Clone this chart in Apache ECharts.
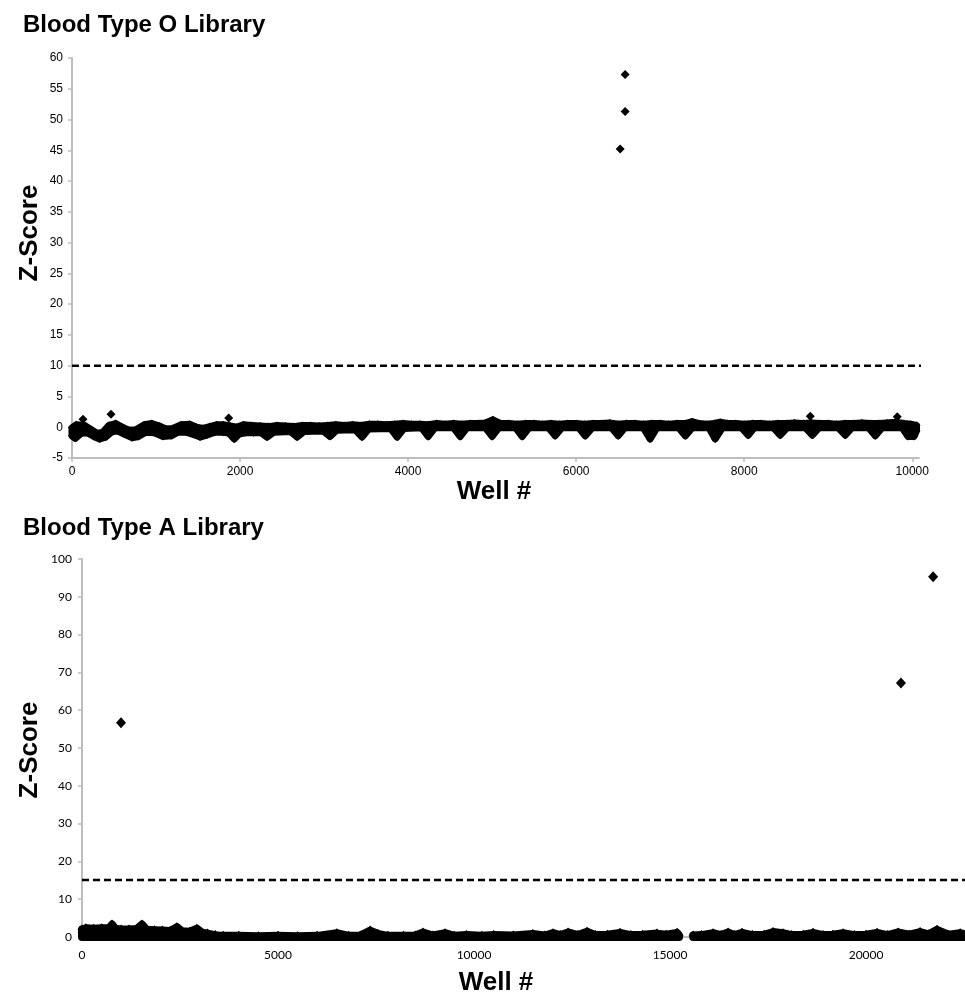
<!DOCTYPE html>
<html>
<head>
<meta charset="utf-8">
<script src="https://cdn.jsdelivr.net/npm/echarts@6/dist/echarts.min.js"></script>
<style>
html,body{margin:0;padding:0;background:#fff;}
#c{width:965px;height:995px;}
</style>
</head>
<body>
<div id="c"></div>
<script>
// ---------------- text ----------------
const titleO = 'Blood Type O Library';
const titleA = 'Blood Type A Library';
const xName = 'Well #';
const yName = 'Z-Score';

// ---------------- tick labels ----------------
const wellTicksO = [0, 2000, 4000, 6000, 8000, 10000];
const wellTicksA = [0, 5000, 10000, 15000, 20000];

// ---------------- thresholds ----------------
const thresholdO = 10;
const thresholdA = 15.1;

// ---------------- Blood Type O : hits and isolated points ----------------
const hitsO = [[6583, 57.3], [6583, 51.3], [6524, 45.2]];
const strayO = [[131, 1.3], [464, 2.1], [1865, 1.5], [8786, 1.8], [9821, 1.7]];

// Blood Type O : dense band, upper edge (well, z)
const upperO = [
[0,-0.1],[50,0.4],[150,0.3],[230,-0.4],[300,-1.0],[370,-0.8],[440,0.3],[520,0.6],[600,0.0],[680,-0.5],
[760,-0.4],[860,0.4],[950,0.6],[1040,0.2],[1120,-0.3],[1200,-0.2],[1300,0.4],[1400,0.5],[1480,0.0],[1560,-0.2],
[1640,0.1],[1720,0.4],[1800,0.4],[1880,0.2],[1960,0.0],[2040,0.4],[2140,0.3],[2240,0.2],[2340,0.1],[2440,0.3],
[2540,0.2],[2640,0.1],[2740,0.3],[2840,0.3],[2940,0.2],[3040,0.3],[3140,0.4],[3240,0.3],[3340,0.4],[3440,0.3],
[3540,0.5],[3640,0.5],[3740,0.4],[3840,0.5],[3940,0.6],[4040,0.5],[4140,0.5],[4240,0.4],[4340,0.6],[4440,0.5],
[4540,0.6],[4640,0.5],[4740,0.6],[4840,0.6],[4920,0.7],[5010,1.2],[5100,0.6],[5200,0.6],[5300,0.5],[5400,0.6],
[5500,0.6],[5600,0.5],[5700,0.6],[5800,0.5],[5900,0.6],[6000,0.6],[6100,0.5],[6200,0.6],[6300,0.6],[6400,0.7],
[6500,0.5],[6600,0.6],[6700,0.6],[6800,0.5],[6900,0.6],[7000,0.6],[7100,0.5],[7200,0.6],[7300,0.6],[7380,0.9],
[7460,0.6],[7560,0.5],[7640,0.6],[7714,0.8],[7800,0.6],[7900,0.6],[8000,0.5],[8100,0.6],[8200,0.6],[8300,0.5],
[8400,0.6],[8500,0.6],[8600,0.7],[8700,0.6],[8800,0.7],[8900,0.6],[9000,0.6],[9100,0.5],[9200,0.6],[9300,0.6],
[9400,0.7],[9500,0.6],[9600,0.6],[9700,0.7],[9800,0.8],[9900,0.6],[9980,0.5],[10050,0.3]
];
// Blood Type O : dense band, lower edge (well, z)
const lowerO = [
[0,-1.4],[40,-1.8],[110,-1.0],[180,-0.9],[260,-1.5],[330,-1.9],[400,-1.6],[470,-0.8],[540,-0.6],[620,-1.1],
[714,-1.7],[790,-1.5],[880,-0.8],[980,-0.9],[1083,-1.5],[1180,-1.4],[1260,-0.8],[1360,-0.8],[1450,-1.2],[1524,-1.6],
[1600,-1.3],[1700,-0.8],[1800,-0.8],[1870,-1.0],[1930,-1.9],[1990,-1.1],[2060,-0.9],[2160,-0.9],[2250,-0.9],[2321,-1.6],
[2400,-0.8],[2600,-0.7],[2679,-1.6],[2760,-0.7],[2990,-0.6],[3071,-1.5],[3150,-0.5],[3370,-0.4],[3452,-1.6],[3530,-0.3],
[3790,-0.2],[3869,-1.6],[3950,-0.2],[4160,-0.1],[4238,-1.5],[4320,-0.1],[4540,-0.1],[4619,-1.5],[4700,-0.1],[4920,-0.1],
[5000,-1.5],[5080,-0.1],[5280,-0.1],[5357,-1.5],[5440,-0.1],[5670,-0.1],[5750,-1.4],[5830,-0.1],[6030,-0.1],[6107,-1.4],
[6190,-0.1],[6420,-0.1],[6500,-1.4],[6580,-0.1],[6800,-0.1],[6880,-1.9],[6960,-0.1],[7220,-0.1],[7298,-1.4],[7380,-0.1],
[7580,-0.1],[7655,-1.9],[7740,-0.1],[7970,-0.1],[8047,-1.3],[8120,-0.1],[8350,-0.1],[8428,-1.3],[8510,-0.1],[8730,-0.1],
[8810,-1.3],[8890,-0.1],[9120,-0.1],[9202,-1.3],[9280,-0.1],[9480,-0.1],[9560,-1.4],[9640,-0.1],[9880,-0.1],[9950,-1.5],
[10020,-1.5],[10050,-0.6]
];

// ---------------- Blood Type A : hits ----------------
const hitsA = [[995, 56.7], [20890, 67.2], [21710, 95.3]];

// Blood Type A : dense band, upper edge, part before the gap
const upperA1 = [
[0,2.0],[100,2.3],[300,2.2],[500,2.3],[700,2.4],[765,3.3],[850,2.2],[1000,2.0],[1200,2.0],[1400,2.1],
[1530,3.3],[1650,1.9],[1850,1.8],[2050,1.7],[2250,1.6],[2420,2.6],[2550,1.5],[2750,1.4],[2930,2.2],[3050,1.2],
[3200,0.9],[3400,0.5],[3600,0.3],[4000,0.3],[4500,0.2],[5000,0.3],[5500,0.2],[6000,0.3],[6500,1.0],[6800,0.3],
[7100,0.4],[7350,1.7],[7550,0.8],[7800,0.3],[8200,0.3],[8500,0.4],[8700,1.2],[8950,0.4],[9260,1.0],[9500,0.3],
[9800,0.5],[10200,0.3],[10500,0.5],[11000,0.4],[11500,0.8],[11800,0.4],[12015,1.0],[12200,0.5],[12398,1.2],[12650,0.5],
[12883,1.4],[13100,0.5],[13400,0.6],[13724,1.1],[14000,0.5],[14300,0.6],[14668,0.9],[14900,0.6],[15179,1.1],[15230,0.4]
];
const lowerA1 = [[0,0],[15230,0]];
// Blood Type A : dense band, upper edge, part after the gap
const upperA2 = [
[15590,0.4],[15800,0.5],[16097,1.0],[16300,0.5],[16480,1.2],[16650,0.5],[16837,1.1],[17100,0.5],[17400,0.6],[17628,1.3],
[17880,1.0],[18100,0.5],[18400,0.6],[18648,1.1],[18900,0.5],[19150,0.6],[19413,1.0],[19700,0.5],[20000,0.6],[20280,1.1],
[20550,0.5],[20816,1.2],[21100,0.6],[21378,1.3],[21600,0.7],[21811,1.9],[22100,0.6],[22400,1.0],[22600,0.5]
];
const lowerA2 = [[15590,0],[22600,0]];

// ---------------- build chart ----------------
const FONT = '"Liberation Sans", Arial, sans-serif';
const FONT_A = 'Lato, "Open Sans", sans-serif';
const AXC = '#bdbdbd';

const bandsO = [{ upper: upperO, lower: lowerO }];
const bandsA = [{ upper: upperA1, lower: lowerA1 }, { upper: upperA2, lower: lowerA2 }];

function bandSeries(bands, gi, stroke) {
  return {
    type: 'custom', coordinateSystem: 'cartesian2d', xAxisIndex: gi, yAxisIndex: gi,
    silent: true, clip: false, z: 2,
    data: bands.map(b => [b.upper[0][0], b.upper[0][1]]),
    renderItem: function (params, api) {
      const b = bands[params.dataIndex];
      const pts = b.upper.map(p => api.coord(p)).concat(b.lower.slice().reverse().map(p => api.coord(p)));
      return { type: 'polygon', shape: { points: pts },
        style: { fill: '#000', stroke: '#000', lineWidth: stroke, lineJoin: 'round' } };
    }
  };
}
function dots(data, gi, size) {
  return { type: 'scatter', xAxisIndex: gi, yAxisIndex: gi, data: data, symbol: 'diamond',
    symbolSize: size, itemStyle: { color: '#000', opacity: 1 }, silent: true, clip: false, z: 3 };
}
function dashLine(y, xmax, gi) {
  return { type: 'line', xAxisIndex: gi, yAxisIndex: gi, data: [[0, y], [xmax, y]], symbol: 'none',
    lineStyle: { color: '#000', width: 2.5, type: [7, 4] }, silent: true, clip: false, z: 4 };
}
const plain = v => String(v);

const chart = echarts.init(document.getElementById('c'), null, { renderer: 'canvas' });
chart.setOption({
  animation: false,
  backgroundColor: '#fff',
  grid: [
    { left: 72, top: 58, width: 847, height: 400, outerBoundsMode: 'none', containLabel: false },
    { left: 82, top: 559, width: 886, height: 378, outerBoundsMode: 'none', containLabel: false }
  ],
  xAxis: [
    { type: 'value', gridIndex: 0, min: 0, max: 10080,
      axisLine: { show: true, onZero: false, lineStyle: { color: AXC, width: 2 } },
      axisTick: { show: true, customValues: wellTicksO, length: 4, lineStyle: { color: AXC, width: 1.5 } },
      axisLabel: { customValues: wellTicksO, formatter: plain, margin: 8, fontFamily: FONT, fontSize: 12, color: '#000' },
      splitLine: { show: false } },
    { type: 'value', gridIndex: 1, min: 0, max: 22600,
      axisLine: { show: true, onZero: false, lineStyle: { color: AXC, width: 2 } },
      axisTick: { show: true, customValues: wellTicksA, length: 4, lineStyle: { color: AXC, width: 1.5 } },
      axisLabel: { customValues: wellTicksA, formatter: plain, margin: 12, fontFamily: FONT_A, fontSize: 12, color: '#000' },
      splitLine: { show: false } }
  ],
  yAxis: [
    { type: 'value', gridIndex: 0, min: -5, max: 60, interval: 5,
      axisLine: { show: true, onZero: false, lineStyle: { color: AXC, width: 2 } },
      axisTick: { show: true, length: 4, lineStyle: { color: AXC, width: 1.5 } },
      axisLabel: { formatter: plain, margin: 9, fontFamily: FONT, fontSize: 12, color: '#000' },
      splitLine: { show: false } },
    { type: 'value', gridIndex: 1, min: 0, max: 100, interval: 10,
      axisLine: { show: true, onZero: false, lineStyle: { color: AXC, width: 2 } },
      axisTick: { show: true, length: 4, lineStyle: { color: AXC, width: 1.5 } },
      axisLabel: { formatter: plain, margin: 10, fontFamily: FONT_A, fontSize: 12, color: '#000' },
      splitLine: { show: false } }
  ],
  graphic: [
    { type: 'text', x: 23, y: 25, style: { text: titleO, font: 'bold 24px ' + FONT, fill: '#000', textVerticalAlign: 'middle' } },
    { type: 'text', x: 23, y: 528, style: { text: titleA, font: 'bold 24px ' + FONT, fill: '#000', textVerticalAlign: 'middle' } },
    { type: 'text', x: 30, y: 233, rotation: Math.PI / 2, style: { text: yName, font: 'bold 26px ' + FONT, fill: '#000', textAlign: 'center', textVerticalAlign: 'middle' } },
    { type: 'text', x: 30, y: 750, rotation: Math.PI / 2, style: { text: yName, font: 'bold 26px ' + FONT, fill: '#000', textAlign: 'center', textVerticalAlign: 'middle' } },
    { type: 'text', x: 494, y: 492, style: { text: xName, font: 'bold 26px ' + FONT, fill: '#000', textAlign: 'center', textVerticalAlign: 'middle' } },
    { type: 'text', x: 496, y: 983, style: { text: xName, font: 'bold 26px ' + FONT, fill: '#000', textAlign: 'center', textVerticalAlign: 'middle' } }
  ],
  series: [
    dashLine(thresholdO, 10150, 0),
    bandSeries(bandsO, 0, 7),
    dots(upperO, 0, 8),
    dots(lowerO, 0, 8),
    dots(strayO, 0, 9),
    dots(hitsO, 0, 9),
    dashLine(thresholdA, 22600, 1),
    bandSeries(bandsA, 1, 8),
    dots(upperA1, 1, [9, 10]),
    dots(upperA2, 1, [9, 10]),
    dots(hitsA, 1, [10, 11])
  ]
});
</script>
</body>
</html>
